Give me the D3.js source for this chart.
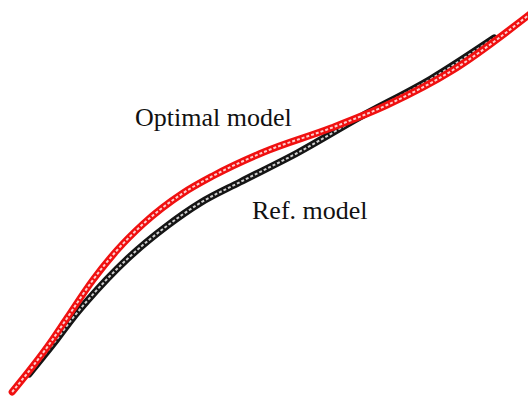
<!DOCTYPE html>
<html>
<head>
<meta charset="utf-8">
<script src="https://cdn.jsdelivr.net/npm/d3@7"></script>
<style>
  html, body { margin: 0; padding: 0; background: #fff; }
  svg { display: block; }
</style>
</head>
<body>
<div id="chart"></div>
<script>
// Curve data (arbitrary units, x and y on 0..100)
const optimalX = [2.3, 6.25, 9.5, 12.7, 17.6, 22.2, 27.1, 34.7, 40.3, 50.0, 62.7, 73.3, 85.8, 100.4];
const optimalY = [2.0, 8.5, 14.25, 20.5, 30.0, 37.5, 44.0, 51.75, 56.0, 62.0, 68.0, 73.75, 82.5, 96.5];
const refX = [5.5, 8.1, 10.8, 13.8, 16.5, 24.1, 31.6, 37.9, 45.5, 56.3, 68.2, 81.6, 93.6];
const refY = [6.5, 10.75, 15.25, 20.5, 24.75, 35.25, 43.5, 49.25, 54.5, 61.75, 70.75, 80.25, 90.5];
const labels = ["Optimal model", "Ref. model"];

const W = 528, H = 400;
const svg = d3.select("#chart").append("svg").attr("width", W).attr("height", H);

const x = d3.scaleLinear().domain([0, 100]).range([0, W]);
const y = d3.scaleLinear().domain([0, 100]).range([H, 0]);

const line = d3.line().x(d => x(d[0])).y(d => y(d[1])).curve(d3.curveMonotoneX);

const refPts = refX.map((v, i) => [v, refY[i]]);
const optPts = optimalX.map((v, i) => [v, optimalY[i]]);

function drawBand(pts, color) {
  svg.append("path").attr("d", line(pts)).attr("fill", "none")
    .attr("stroke", color).attr("stroke-width", 7).attr("stroke-linecap", "round").attr("stroke-linejoin", "round");
  svg.append("path").attr("d", line(pts)).attr("fill", "none")
    .attr("stroke", "#fff").attr("stroke-opacity", 0.8).attr("stroke-width", 2).attr("stroke-dasharray", "3,2");
}

drawBand(refPts, "#151515");
drawBand(optPts, "#f01010");

svg.append("text").attr("x", 135).attr("y", 126).text(labels[0])
  .attr("font-family", "'Liberation Serif', 'Times New Roman', serif").attr("font-size", 26).attr("fill", "#111");
svg.append("text").attr("x", 252).attr("y", 219).text(labels[1])
  .attr("font-family", "'Liberation Serif', 'Times New Roman', serif").attr("font-size", 26).attr("fill", "#111");
</script>
</body>
</html>
